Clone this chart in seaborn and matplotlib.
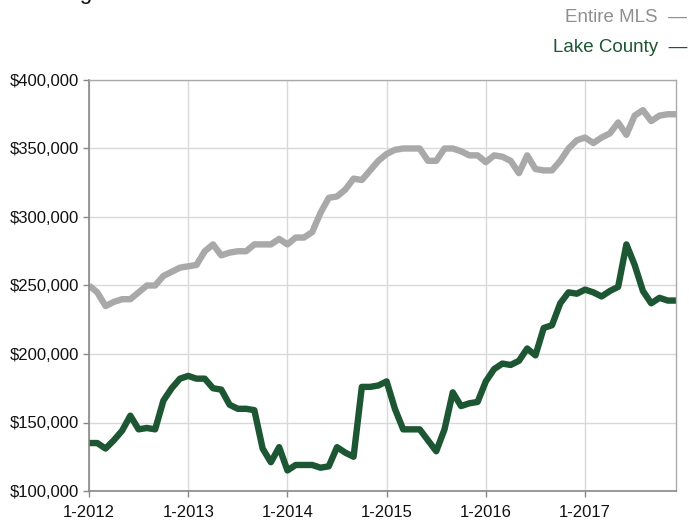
import numpy as np
import pandas as pd
import matplotlib
matplotlib.use("Agg")
import matplotlib.pyplot as plt
import seaborn as sns

# Monthly values, 1-2012 .. 12-2017 (in dollars / 1000)
entire_mls = [
    250, 245, 235, 238, 240, 240, 245, 250, 250, 257, 260, 263,
    264, 265, 275, 280, 272, 274, 275, 275, 280, 280, 280, 284,
    280, 285, 285, 289, 303, 314, 315, 320, 328, 327, 334, 341,
    346, 349, 350, 350, 350, 341, 341, 350, 350, 348, 345, 345,
    340, 345, 344, 341, 332, 345, 335, 334, 334, 341, 350, 356,
    358, 354, 358, 361, 369, 360, 374, 378, 370, 374, 375, 375,
]
lake_county = [
    135, 135, 131, 137, 144, 155, 145, 146, 145, 166, 175, 182,
    184, 182, 182, 175, 174, 163, 160, 160, 159, 131, 121, 132,
    115, 119, 119, 119, 117, 118, 132, 128, 125, 176, 176, 177,
    180, 160, 145, 145, 145, 137, 129, 145, 172, 162, 164, 165,
    180, 189, 193, 192, 195, 204, 199, 219, 221, 237, 245, 244,
    247, 245, 242, 246, 249, 280, 265, 246, 237, 241, 239, 239,
]
year_labels = ["1-2012", "1-2013", "1-2014", "1-2015", "1-2016", "1-2017"]
y_ticks = [100000, 150000, 200000, 250000, 300000, 350000, 400000]

GRAY = "#a9a9a9"
GREEN = "#1d5632"

n = len(entire_mls)
df = pd.DataFrame({
    "month": list(range(n)) * 2,
    "price": [v * 1000 for v in entire_mls] + [v * 1000 for v in lake_county],
    "series": ["Entire MLS"] * n + ["Lake County"] * n,
})

sns.set_style("whitegrid")
plt.rcParams["font.family"] = ["Liberation Sans", "DejaVu Sans"]

fig = plt.figure(figsize=(6.89, 5.21), dpi=100)
ax = fig.add_axes([89 / 689, 1 - 491 / 521, (676 - 89) / 689, (491 - 80) / 521])

sns.lineplot(data=df, x="month", y="price", hue="series",
             palette={"Entire MLS": GRAY, "Lake County": GREEN},
             linewidth=4.6, legend=False, ax=ax)
for line in ax.get_lines():
    line.set_solid_joinstyle("round")
    line.set_solid_capstyle("butt")

ax.set_xlim(0, n - 1)
ax.set_ylim(100000, 400000)
ax.set_xticks(range(0, n, 12))
ax.set_xticklabels(year_labels)
ax.set_yticks(y_ticks)
ax.set_yticklabels([f"${v:,.0f}" for v in y_ticks])
ax.set_xlabel("")
ax.set_ylabel("")

ax.grid(True, color="#d9d9d9", linewidth=1.0)
ax.tick_params(axis="both", which="both", length=4, width=1, color="#888888",
               labelsize=12, labelcolor="#111111", pad=3, direction="out")
ax.tick_params(axis="x", bottom=True, pad=6)
ax.tick_params(axis="y", left=True)
for side in ["left", "bottom"]:
    ax.spines[side].set_color("#888888")
    ax.spines[side].set_linewidth(1.2)
for side in ["top", "right"]:
    ax.spines[side].set_color("#aaaaaa")
    ax.spines[side].set_linewidth(1.0)

# legend drawn as coloured text, top right
fig.text(687 / 689, 1 - 17 / 521, "Entire MLS  —", color="#8f8f8f",
         fontsize=13.5, ha="right", va="center")
fig.text(687 / 689, 1 - 48 / 521, "Lake County  —", color=GREEN,
         fontsize=13.5, ha="right", va="center")

# title, mostly cut off by the top edge (as in the source image)
fig.text(22 / 689, 1 + 1 / 521, "Average Sale Price", color="#111111",
         fontsize=16, ha="left", va="baseline")

fig.savefig("out.png", dpi=100)
